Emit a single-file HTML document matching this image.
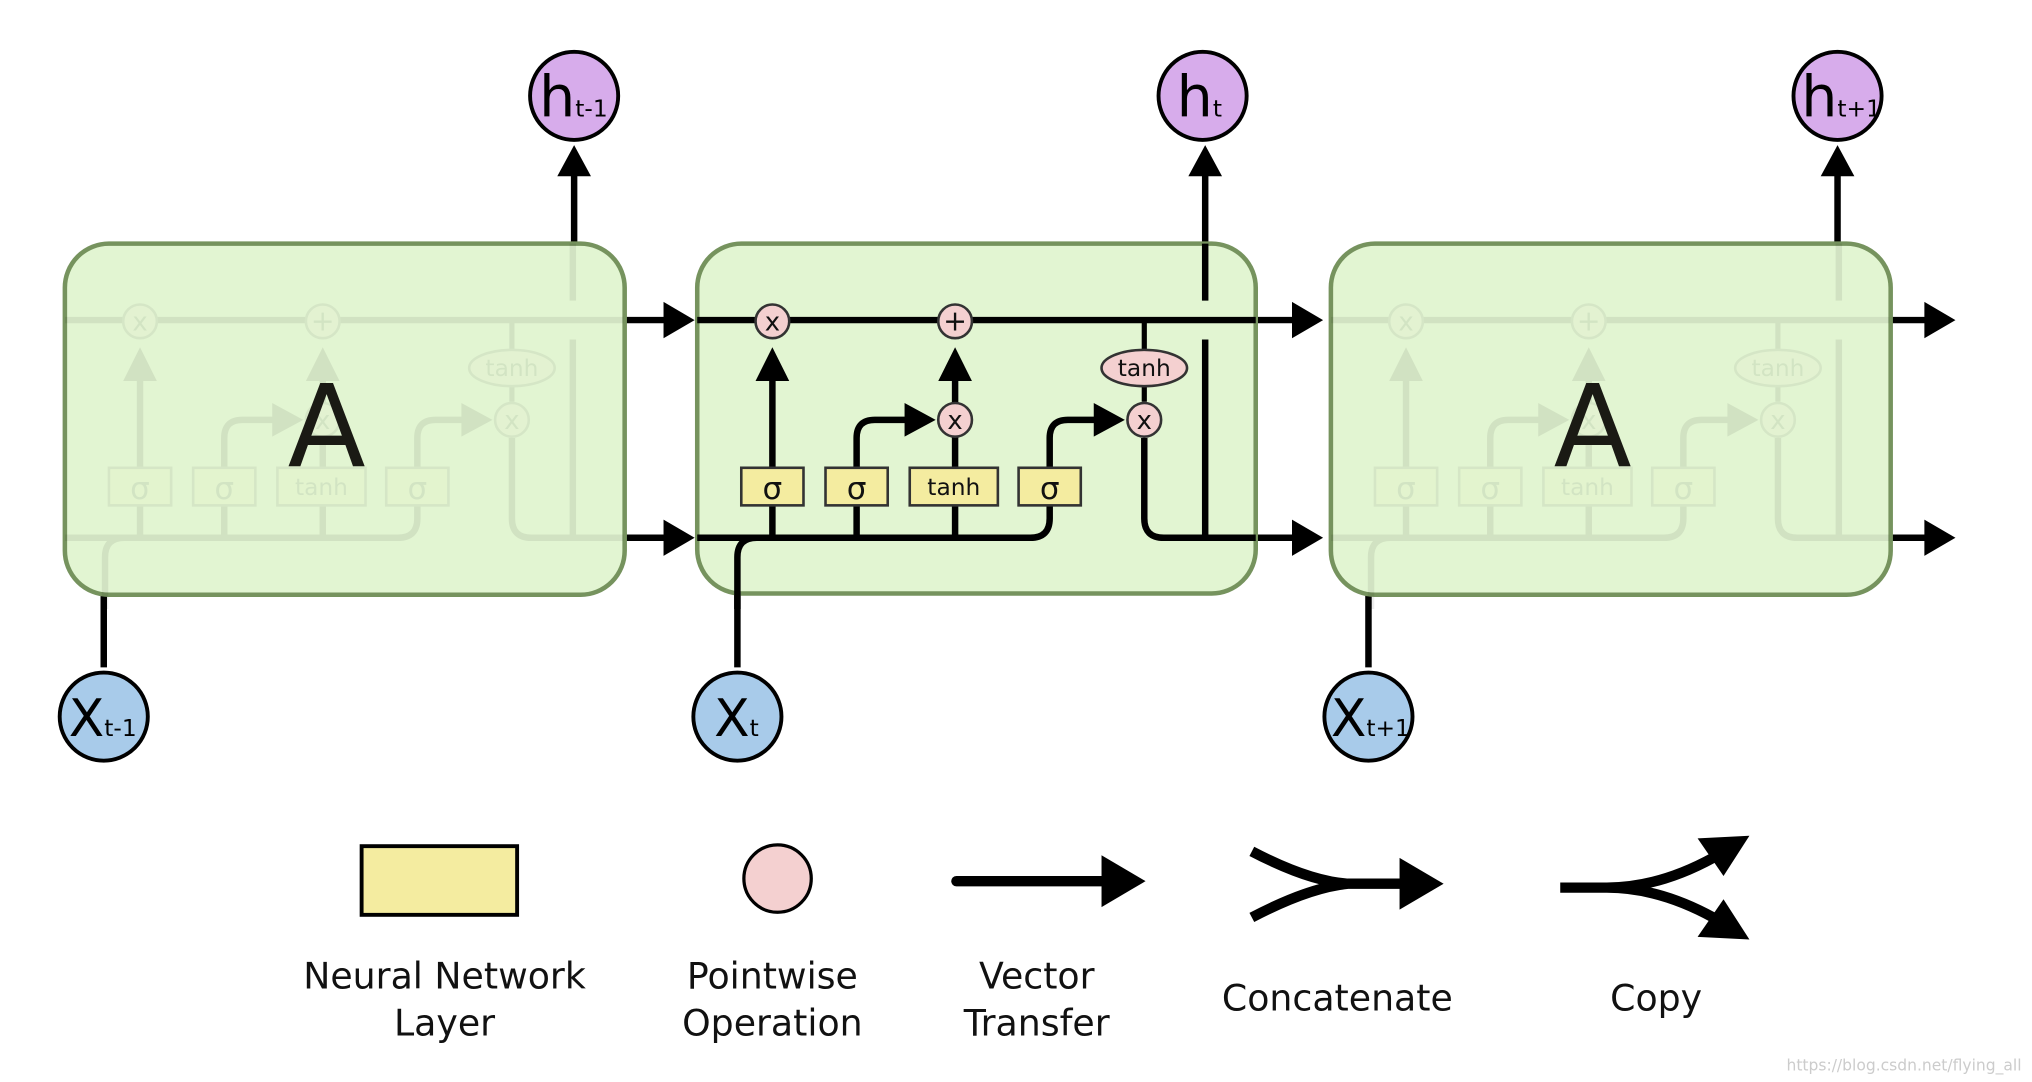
<!DOCTYPE html>
<html><head><meta charset="utf-8"><style>
html,body{margin:0;padding:0;background:#fff}
svg{display:block}
text{font-family:"DejaVu Sans","Liberation Sans",sans-serif}
</style></head><body>
<svg width="2032" height="1082" viewBox="0 0 1568 835" xmlns="http://www.w3.org/2000/svg">
<defs>
<g id="cell">
  <line x1="538" y1="247" x2="969" y2="247" stroke="#000" stroke-width="5"/>
  <path d="M538 415 H795 Q810 415 810 400 V390" fill="none" stroke="#000" stroke-width="5"/>
  <path d="M569 470 V430 Q569 415 584 415" fill="none" stroke="#000" stroke-width="5"/>
  <line x1="596" y1="415" x2="596" y2="292" stroke="#000" stroke-width="5"/>
  <polygon points="583,294 609,294 596,268" fill="#000"/>
  <path d="M661 415 V338 Q661 324 675 324 H700" fill="none" stroke="#000" stroke-width="5"/>
  <polygon points="698,311 698,337 722,324" fill="#000"/>
  <line x1="737" y1="415" x2="737" y2="292" stroke="#000" stroke-width="5"/>
  <polygon points="724,294 750,294 737,268" fill="#000"/>
  <path d="M810 390 V338 Q810 324 824 324 H846" fill="none" stroke="#000" stroke-width="5"/>
  <polygon points="844,311 844,337 868,324" fill="#000"/>
  <line x1="883" y1="247" x2="883" y2="310" stroke="#000" stroke-width="4"/>
  <path d="M883 338 V400 Q883 415 898 415 H969" fill="none" stroke="#000" stroke-width="5"/>
  <line x1="930" y1="262" x2="930" y2="415" stroke="#000" stroke-width="5"/>
  <line x1="930" y1="188" x2="930" y2="232" stroke="#000" stroke-width="5"/>
  <g fill="#f4eca0" stroke="#333" stroke-width="2">
    <rect x="572" y="361" width="48" height="29"/>
    <rect x="637" y="361" width="48" height="29"/>
    <rect x="702" y="361" width="68" height="29"/>
    <rect x="786" y="361" width="48" height="29"/>
  </g>
  <g font-size="24" text-anchor="middle" fill="#111">
    <text x="596" y="385">σ</text>
    <text x="661" y="385">σ</text>
    <text x="736" y="382" font-size="18">tanh</text>
    <text x="810" y="385">σ</text>
  </g>
  <g fill="#f4d0d0" stroke="#333" stroke-width="2">
    <circle cx="596" cy="248" r="13"/>
    <circle cx="737" cy="248" r="13"/>
    <circle cx="737" cy="324" r="13"/>
    <circle cx="883" cy="324" r="13"/>
    <ellipse cx="883" cy="284" rx="33" ry="14"/>
  </g>
  <g font-size="20" text-anchor="middle" fill="#111">
    <text x="596" y="255">x</text>
    <text x="737" y="255" font-size="22">+</text>
    <text x="737" y="331">x</text>
    <text x="883" y="331">x</text>
    <text x="883" y="290" font-size="18">tanh</text>
  </g>
</g>
</defs>

<g stroke="#000" stroke-width="5">
  <line x1="443" y1="188" x2="443" y2="132"/>
  <line x1="930" y1="188" x2="930" y2="132"/>
  <line x1="1418" y1="188" x2="1418" y2="132"/>
  <line x1="80" y1="515" x2="80" y2="458"/>
  <line x1="569" y1="515" x2="569" y2="458"/>
  <line x1="1056" y1="515" x2="1056" y2="458"/>
  <line x1="482" y1="247" x2="515" y2="247"/>
  <line x1="482" y1="415" x2="515" y2="415"/>
  <line x1="969" y1="247" x2="1000" y2="247"/>
  <line x1="969" y1="415" x2="1000" y2="415"/>
  <line x1="1459" y1="247" x2="1488" y2="247"/>
  <line x1="1459" y1="415" x2="1488" y2="415"/>
</g>
<g fill="#000">
  <polygon points="430,136 456,136 443,112"/>
  <polygon points="917,136 943,136 930,112"/>
  <polygon points="1405,136 1431,136 1418,112"/>
  <polygon points="512,233 512,261 536,247"/>
  <polygon points="512,401 512,429 536,415"/>
  <polygon points="997,233 997,261 1021,247"/>
  <polygon points="997,401 997,429 1021,415"/>
  <polygon points="1485,233 1485,261 1509,247"/>
  <polygon points="1485,401 1485,429 1509,415"/>
</g>

<rect x="50" y="188" width="432" height="271" rx="34" fill="#e2f5d2" stroke="#76935e" stroke-width="3.5"/>
<g opacity="0.07"><use href="#cell" transform="translate(-488,0)"/></g>
<text x="252" y="360" font-size="88" text-anchor="middle" fill="#1a1a14">A</text>

<rect x="538" y="188" width="431" height="270" rx="34" fill="#e2f5d2" stroke="#76935e" stroke-width="3.5"/>
<use href="#cell"/>

<rect x="1027" y="188" width="432" height="271" rx="34" fill="#e2f5d2" stroke="#76935e" stroke-width="3.5"/>
<g opacity="0.07"><use href="#cell" transform="translate(489,0)"/></g>
<text x="1229" y="360" font-size="88" text-anchor="middle" fill="#1a1a14">A</text>

<g fill="#d7aceb" stroke="#000" stroke-width="3">
  <circle cx="443" cy="74" r="34"/>
  <circle cx="928" cy="74" r="34"/>
  <circle cx="1418" cy="74" r="34"/>
</g>
<g fill="#000">
  <text x="416" y="90" font-size="44">h<tspan font-size="18">t-1</tspan></text>
  <text x="908" y="90" font-size="44">h<tspan font-size="18">t</tspan></text>
  <text x="1390" y="90" font-size="44">h<tspan font-size="18">t+1</tspan></text>
</g>
<g fill="#a8cbea" stroke="#000" stroke-width="3">
  <circle cx="80" cy="553" r="34"/>
  <circle cx="569" cy="553" r="34"/>
  <circle cx="1056" cy="553" r="34"/>
</g>
<g fill="#000">
  <text x="53" y="568" font-size="40">X<tspan font-size="18">t-1</tspan></text>
  <text x="551" y="568" font-size="40">X<tspan font-size="18">t</tspan></text>
  <text x="1027" y="568" font-size="40">X<tspan font-size="18">t+1</tspan></text>
</g>

<rect x="279" y="653" width="120" height="53" fill="#f4eca0" stroke="#000" stroke-width="3"/>
<circle cx="600" cy="678" r="26" fill="#f4d0d0" stroke="#000" stroke-width="2.5"/>
<line x1="738" y1="680" x2="855" y2="680" stroke="#000" stroke-width="8" stroke-linecap="round"/>
<polygon points="850,660 850,700 884,680" fill="#000"/>
<path d="M966 657 Q1010 680 1040 682 H1085 M966 708 Q1010 685 1040 682" fill="none" stroke="#000" stroke-width="8"/>
<polygon points="1080,662 1080,702 1114,682" fill="#000"/>
<path d="M1204 685 H1240 Q1280 685 1322 662 M1240 685 Q1280 685 1322 708" fill="none" stroke="#000" stroke-width="8"/>
<polygon points="1310,647 1350,645 1330,676" fill="#000"/>
<polygon points="1310,723 1350,725 1330,694" fill="#000"/>
<g font-size="28" text-anchor="middle" fill="#111">
  <text x="343" y="763">Neural Network</text>
  <text x="343" y="799">Layer</text>
  <text x="596" y="763">Pointwise</text>
  <text x="596" y="799">Operation</text>
  <text x="800" y="763">Vector</text>
  <text x="800" y="799">Transfer</text>
  <text x="1032" y="780">Concatenate</text>
  <text x="1278" y="780">Copy</text>
</g>
<text x="1560" y="826" font-size="12" text-anchor="end" fill="#ccc">https://blog.csdn.net/flying_all</text>
</svg>
</body></html>
